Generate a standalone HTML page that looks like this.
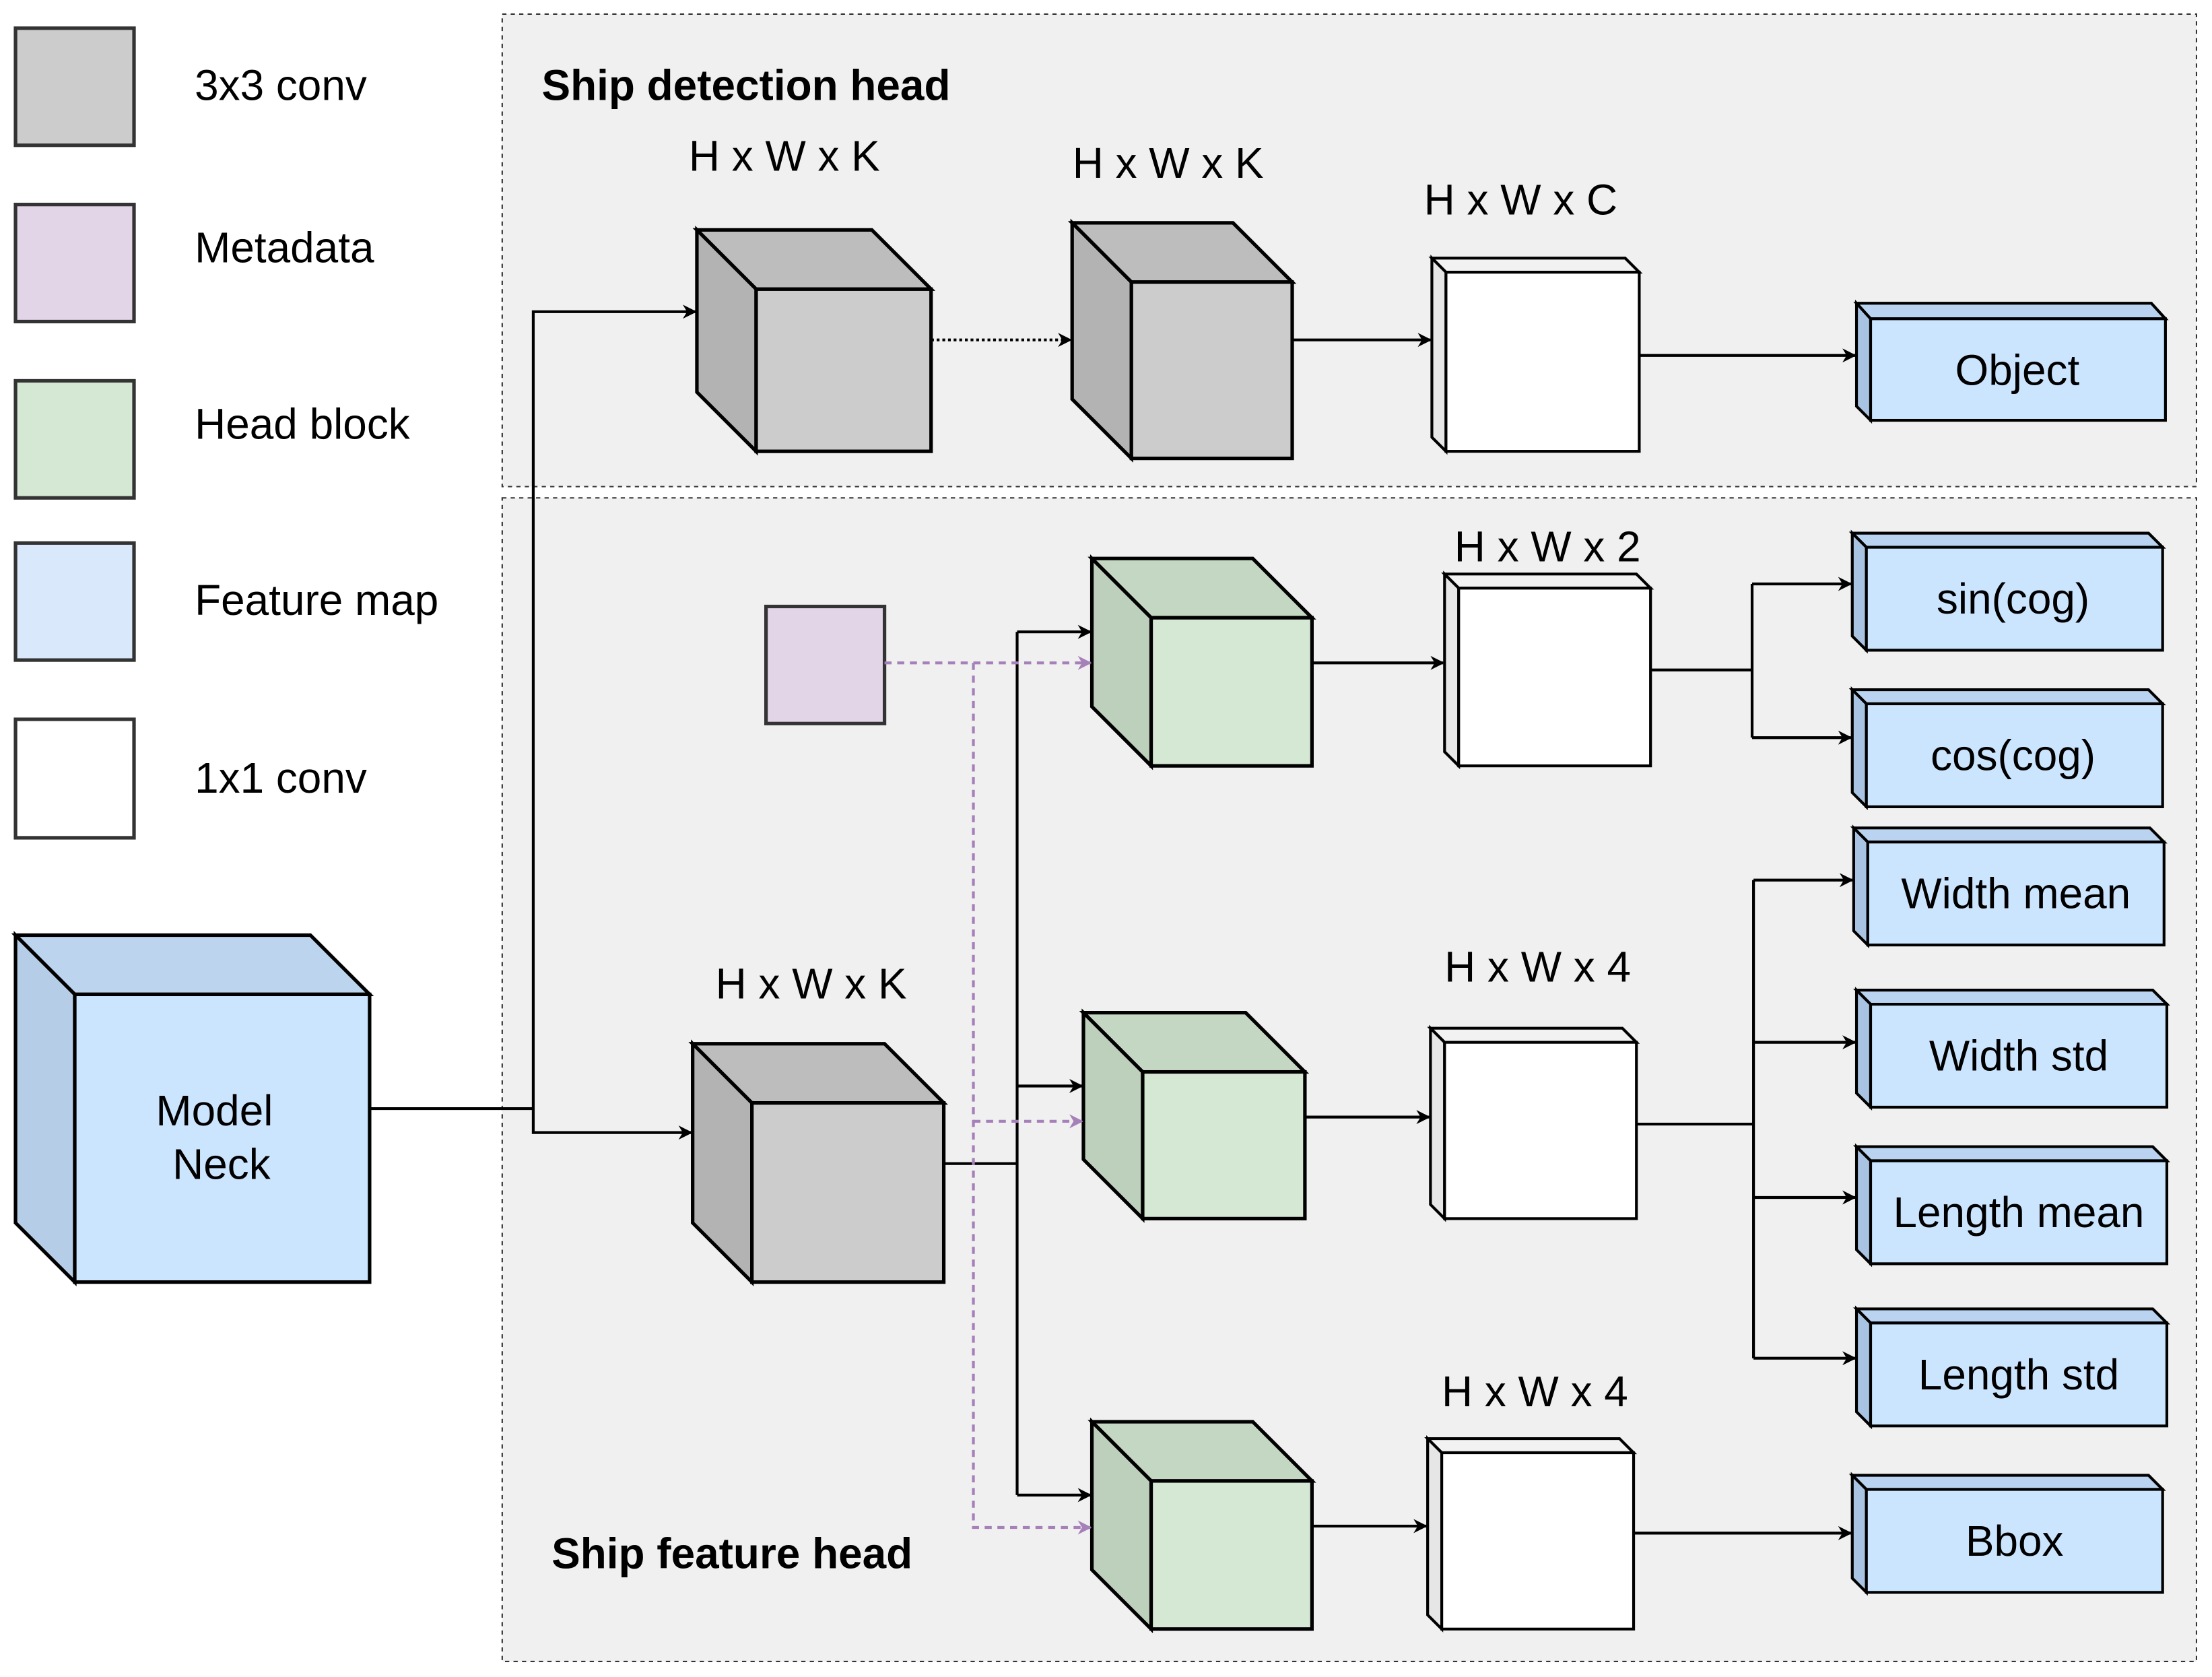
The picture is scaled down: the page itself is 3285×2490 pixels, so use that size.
<!DOCTYPE html>
<html><head><meta charset="utf-8"><style>html,body{margin:0;padding:0;background:#fff}svg{display:block}text{font-family:"Liberation Sans",Arial,sans-serif}</style></head><body>
<svg width="3285" height="2490" viewBox="0 0 1568 1189" preserveAspectRatio="none" xmlns="http://www.w3.org/2000/svg">
<defs>
<marker id="a" markerWidth="10" markerHeight="10" refX="9" refY="5" orient="auto" markerUnits="userSpaceOnUse"><path d="M0,0 L10,5 L0,10 L3,5 z" fill="#000"/></marker>
<marker id="p" markerWidth="10" markerHeight="10" refX="9" refY="5" orient="auto" markerUnits="userSpaceOnUse"><path d="M0,0 L10,5 L0,10 L3,5 z" fill="#a680b8"/></marker>
</defs>
<rect width="1568" height="1189" fill="#fff"/>
<rect x="356" y="10" width="1201" height="335" fill="#f0f0f0" stroke="#333" stroke-width="1" stroke-dasharray="3,3"/>
<rect x="356" y="353" width="1201" height="825" fill="#f0f0f0" stroke="#333" stroke-width="1" stroke-dasharray="3,3"/>
<g stroke="#333" stroke-width="2.5">
<rect x="11" y="20" width="84" height="83" fill="#cccccc"/>
<rect x="11" y="145" width="84" height="83" fill="#e1d5e7"/>
<rect x="11" y="270" width="84" height="83" fill="#d5e8d4"/>
<rect x="11" y="385" width="84" height="83" fill="#dae8fc"/>
<rect x="11" y="510" width="84" height="84" fill="#ffffff"/>
<rect x="543" y="430" width="84" height="83" fill="#e1d5e7"/>
</g>
<g font-size="30.5" fill="#000">
<text x="138" y="71">3x3 conv</text>
<text x="138" y="186">Metadata</text>
<text x="138" y="311">Head block</text>
<text x="138" y="436">Feature map</text>
<text x="138" y="562">1x1 conv</text>
</g>
<g font-size="30.5" font-weight="bold"><text x="384" y="71">Ship detection head</text><text x="391" y="1112">Ship feature head</text></g>
<g stroke="#000" stroke-width="2.5" stroke-linejoin="miter">
<path d="M11,663 L220,663 L262,705 L53,705 Z" fill="#bcd4ee"/><path d="M11,663 L53,705 L53,909 L11,867 Z" fill="#b5cde6"/><rect x="53" y="705" width="209" height="204" fill="#cce5ff"/>
<path d="M494,163 L618,163 L660,205 L536,205 Z" fill="#bdbdbd"/><path d="M494,163 L536,205 L536,320 L494,278 Z" fill="#b3b3b3"/><rect x="536" y="205" width="124" height="115" fill="#cccccc"/>
<path d="M760,158 L874,158 L916,200 L802,200 Z" fill="#bdbdbd"/><path d="M760,158 L802,200 L802,325 L760,283 Z" fill="#b3b3b3"/><rect x="802" y="200" width="114" height="125" fill="#cccccc"/>
<path d="M491,740 L627,740 L669,782 L533,782 Z" fill="#bdbdbd"/><path d="M491,740 L533,782 L533,909 L491,867 Z" fill="#b3b3b3"/><rect x="533" y="782" width="136" height="127" fill="#cccccc"/>
<path d="M774,396 L888,396 L930,438 L816,438 Z" fill="#c4d7c3"/><path d="M774,396 L816,438 L816,543 L774,501 Z" fill="#bdd0bc"/><rect x="816" y="438" width="114" height="105" fill="#d5e8d4"/>
<path d="M768,718 L883,718 L925,760 L810,760 Z" fill="#c4d7c3"/><path d="M768,718 L810,760 L810,864 L768,822 Z" fill="#bdd0bc"/><rect x="810" y="760" width="115" height="104" fill="#d5e8d4"/>
<path d="M774,1008 L888,1008 L930,1050 L816,1050 Z" fill="#c4d7c3"/><path d="M774,1008 L816,1050 L816,1155 L774,1113 Z" fill="#bdd0bc"/><rect x="816" y="1050" width="114" height="105" fill="#d5e8d4"/>
</g>
<g stroke="#000" stroke-width="2">
<path d="M1015,183 L1152,183 L1162,193 L1025,193 Z" fill="#f2f2f2"/><path d="M1015,183 L1025,193 L1025,320 L1015,310 Z" fill="#e6e6e6"/><rect x="1025" y="193" width="137" height="127" fill="#fff"/>
<path d="M1024,407 L1160,407 L1170,417 L1034,417 Z" fill="#f2f2f2"/><path d="M1024,407 L1034,417 L1034,543 L1024,533 Z" fill="#e6e6e6"/><rect x="1034" y="417" width="136" height="126" fill="#fff"/>
<path d="M1014,729 L1150,729 L1160,739 L1024,739 Z" fill="#f2f2f2"/><path d="M1014,729 L1024,739 L1024,864 L1014,854 Z" fill="#e6e6e6"/><rect x="1024" y="739" width="136" height="125" fill="#fff"/>
<path d="M1012,1020 L1148,1020 L1158,1030 L1022,1030 Z" fill="#f2f2f2"/><path d="M1012,1020 L1022,1030 L1022,1155 L1012,1145 Z" fill="#e6e6e6"/><rect x="1022" y="1030" width="136" height="125" fill="#fff"/>
<g fill="#cce5ff">
<path d="M1316,215 L1525,215 L1535,226 L1326,226 Z" fill="#b9d3f0"/><path d="M1316,215 L1326,226 L1326,298 L1316,288 Z" fill="#a9c4e3"/><rect x="1326" y="226" width="209" height="72"/>
<path d="M1313,378 L1523,378 L1533,388 L1323,388 Z" fill="#b9d3f0"/><path d="M1313,378 L1323,388 L1323,461 L1313,451 Z" fill="#a9c4e3"/><rect x="1323" y="388" width="210" height="73"/>
<path d="M1313,489 L1523,489 L1533,499 L1323,499 Z" fill="#b9d3f0"/><path d="M1313,489 L1323,499 L1323,572 L1313,562 Z" fill="#a9c4e3"/><rect x="1323" y="499" width="210" height="73"/>
<path d="M1314,587 L1524,587 L1534,597 L1324,597 Z" fill="#b9d3f0"/><path d="M1314,587 L1324,597 L1324,670 L1314,660 Z" fill="#a9c4e3"/><rect x="1324" y="597" width="210" height="73"/>
<path d="M1316,702 L1526,702 L1536,712 L1326,712 Z" fill="#b9d3f0"/><path d="M1316,702 L1326,712 L1326,785 L1316,775 Z" fill="#a9c4e3"/><rect x="1326" y="712" width="210" height="73"/>
<path d="M1316,813 L1526,813 L1536,823 L1326,823 Z" fill="#b9d3f0"/><path d="M1316,813 L1326,823 L1326,896 L1316,886 Z" fill="#a9c4e3"/><rect x="1326" y="823" width="210" height="73"/>
<path d="M1316,928 L1526,928 L1536,938 L1326,938 Z" fill="#b9d3f0"/><path d="M1316,928 L1326,938 L1326,1011 L1316,1001 Z" fill="#a9c4e3"/><rect x="1326" y="938" width="210" height="73"/>
<path d="M1313,1046 L1523,1046 L1533,1056 L1323,1056 Z" fill="#b9d3f0"/><path d="M1313,1046 L1323,1056 L1323,1129 L1313,1119 Z" fill="#a9c4e3"/><rect x="1323" y="1056" width="210" height="73"/>
</g>
</g>
<g font-size="30.5" text-anchor="middle">
<text x="152" y="798">Model</text><text x="157" y="836">Neck</text>
<text x="1430" y="273">Object</text>
<text x="1427" y="435">sin(cog)</text>
<text x="1427" y="546">cos(cog)</text>
<text x="1429" y="644">Width mean</text>
<text x="1431" y="759">Width std</text>
<text x="1431" y="870">Length mean</text>
<text x="1431" y="985">Length std</text>
<text x="1428" y="1103">Bbox</text>
<text x="556" y="121">H x W x K</text>
<text x="828" y="126">H x W x K</text>
<text x="1078" y="152">H x W x C</text>
<text x="1097" y="398">H x W x 2</text>
<text x="1090" y="696">H x W x 4</text>
<text x="1088" y="997">H x W x 4</text>
<text x="575" y="708">H x W x K</text>
</g>
<g stroke="#000" stroke-width="2" fill="none">
<path d="M262,786 L378,786 L378,221 L493,221" marker-end="url(#a)"/>
<path d="M378,786 L378,803 L490,803" marker-end="url(#a)"/>
<path d="M660,241 L759,241" stroke-dasharray="2,2" marker-end="url(#a)"/>
<path d="M916,241 L1014,241" marker-end="url(#a)"/>
<path d="M1162,252 L1315,252" marker-end="url(#a)"/>
<path d="M669,825 L721,825"/>
<path d="M721,448 L721,1060"/>
<path d="M721,448 L773,448" marker-end="url(#a)"/>
<path d="M721,770 L767,770" marker-end="url(#a)"/>
<path d="M721,1060 L773,1060" marker-end="url(#a)"/>
<path d="M930,470 L1023,470" marker-end="url(#a)"/>
<path d="M1170,475 L1242,475"/><path d="M1242,414 L1242,523"/>
<path d="M1242,414 L1312,414" marker-end="url(#a)"/><path d="M1242,523 L1312,523" marker-end="url(#a)"/>
<path d="M925,792 L1013,792" marker-end="url(#a)"/>
<path d="M1160,797 L1243,797"/><path d="M1243,624 L1243,963"/>
<path d="M1243,624 L1313,624" marker-end="url(#a)"/><path d="M1243,739 L1315,739" marker-end="url(#a)"/>
<path d="M1243,849 L1315,849" marker-end="url(#a)"/><path d="M1243,963 L1315,963" marker-end="url(#a)"/>
<path d="M930,1082 L1011,1082" marker-end="url(#a)"/>
<path d="M1158,1087 L1312,1087" marker-end="url(#a)"/>
</g>
<g stroke="#a680b8" stroke-width="2" fill="none" stroke-dasharray="5,4">
<path d="M627,470 L773,470" marker-end="url(#p)"/>
<path d="M690,470 L690,1083 L773,1083" marker-end="url(#p)"/>
<path d="M690,795 L767,795" marker-end="url(#p)"/>
</g>
</svg>
</body></html>
